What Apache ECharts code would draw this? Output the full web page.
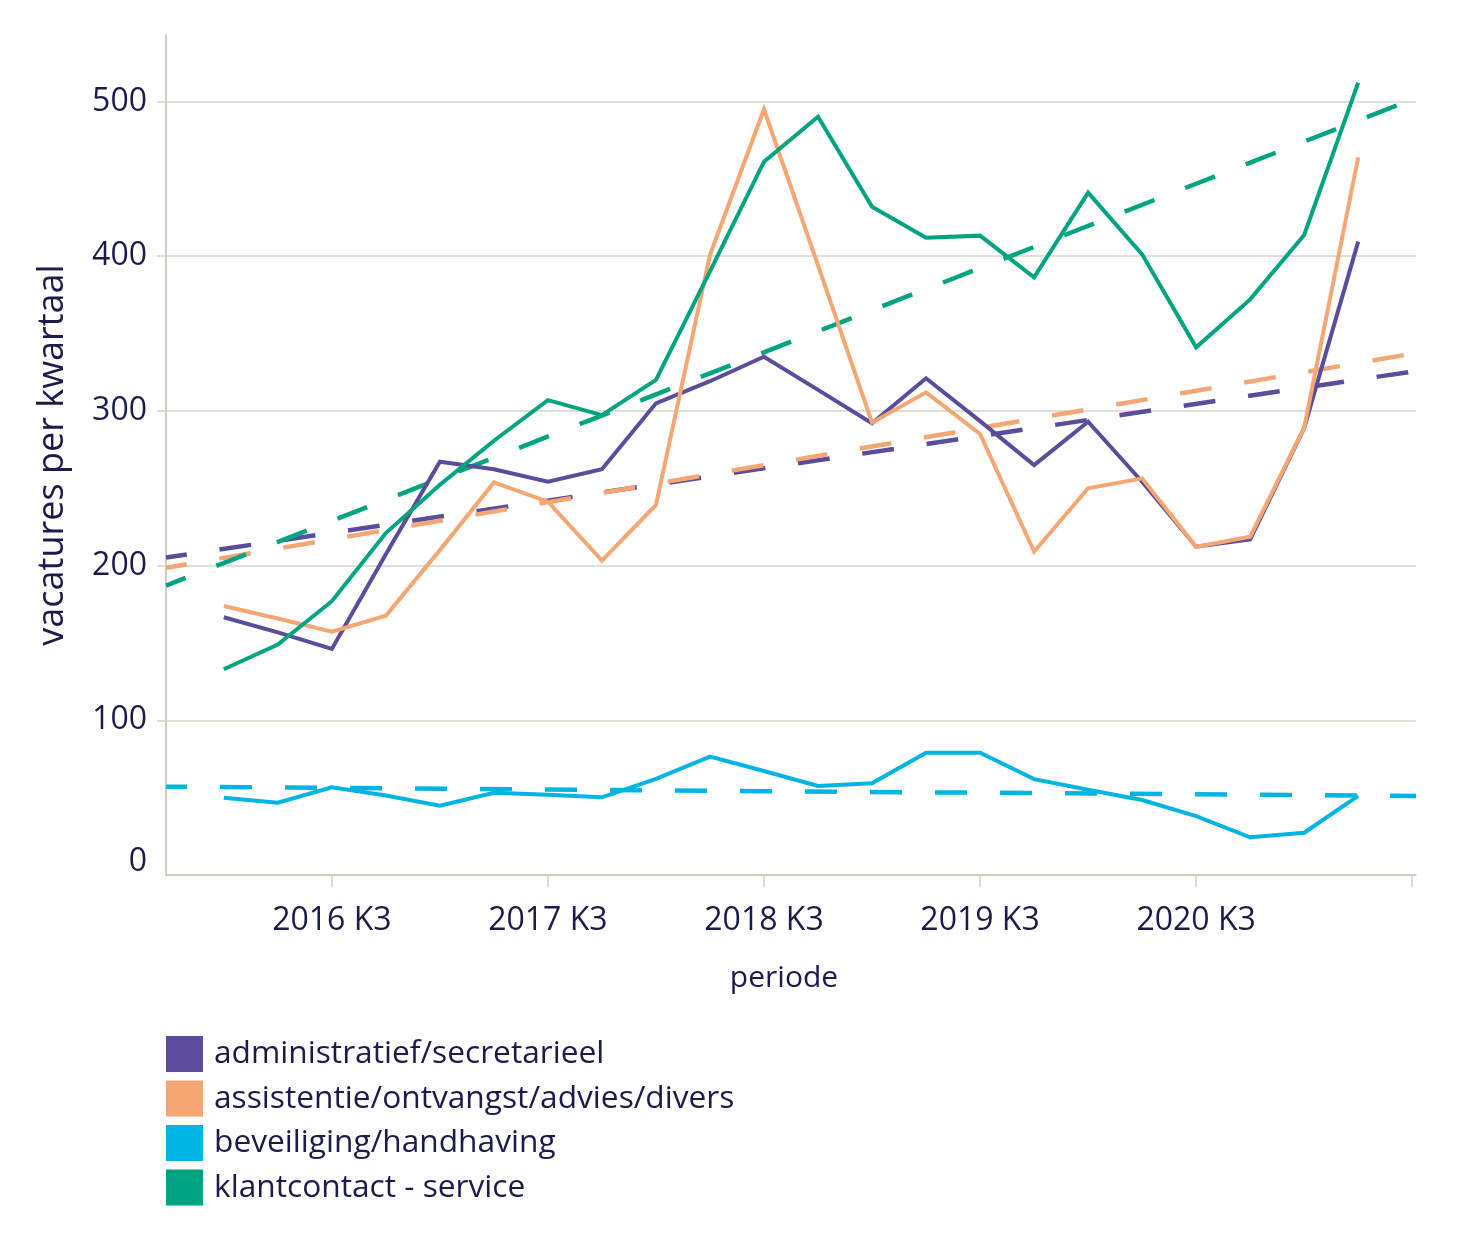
<!DOCTYPE html>
<html><head><meta charset="utf-8">
<script src="https://cdn.jsdelivr.net/npm/echarts@6/dist/echarts.min.js"></script>
<style>html,body{margin:0;padding:0;background:#fff}#c{width:1477px;height:1249px}</style>
</head><body><div id="c"></div>
<script>
// ---- data ----
const quarters = ['2016 K1','2016 K2','2016 K3','2016 K4','2017 K1','2017 K2','2017 K3','2017 K4',
  '2018 K1','2018 K2','2018 K3','2018 K4','2019 K1','2019 K2','2019 K3','2019 K4',
  '2020 K1','2020 K2','2020 K3','2020 K4','2021 K1','2021 K2'];
const tickLabels = ['2016 K3','2017 K3','2018 K3','2019 K3','2020 K3'];
const seriesNames = ['administratief/secretarieel','assistentie/ontvangst/advies/divers','beveiliging/handhaving','klantcontact - service'];
const administratief = [166.6,156.8,146.1,207.3,267.2,262.3,254.2,262.3,304.9,319.2,335.0,313.6,292.0,321.1,293.4,265.0,293.0,254.2,212.2,217.0,289.0,409.4];
const assistentie   = [173.9,165.8,157.3,167.6,210.0,253.8,241.3,203.2,239.2,400.8,495.0,394.1,292.4,312.0,285.1,209.0,250.0,256.4,212.2,218.7,289.0,463.9];
const beveiliging   = [50.0,46.7,56.7,51.4,44.8,53.2,51.9,50.2,62.1,76.5,67.2,57.5,59.3,79.1,79.1,62.0,55.1,48.5,38.1,24.4,27.3,51.1];
const klantcontact  = [133.0,149.0,177.0,221.0,252.2,280.7,307.0,297.3,320.0,390.2,461.1,490.2,432.0,412.0,413.3,386.4,441.1,401.2,341.1,372.1,413.7,512.2];
// linear trend lines: value at left edge and at right edge of the plot
const trendStart = [205.2,198.6,57.1,187.1];
const trendEnd   = [325.8,337.4,51.1,502.3];
const yTicks = [0,100,200,300,400,500];

// ---- styling ----
const colors = ['#5b4d9b','#f5a673','#00b5e3','#00a480'];
const textColor = '#1b1b4b';
const FONT = '"Open Sans", sans-serif';
const FW = 500;
const xMin = -1.07, xMax = 22.07;

const values = [administratief, assistentie, beveiliging, klantcontact];
const labelIdx = tickLabels.map(t => quarters.indexOf(t));
const tickIdx = labelIdx.concat([labelIdx[labelIdx.length-1] + 4]);

const series = [];
values.forEach((arr, k) => {
  series.push({
    name: seriesNames[k] + ' trend', type: 'line', silent: true, symbol: 'none',
    data: [[xMin, trendStart[k]], [xMax, trendEnd[k]]],
    lineStyle: {color: colors[k], width: 4.5, type: [32, 33], dashOffset: 11, cap: 'butt'},
    z: 2
  });
});
values.forEach((arr, k) => {
  series.push({
    name: seriesNames[k], type: 'line', symbol: 'none',
    data: arr.map((v, i) => [i, v]),
    lineStyle: {color: colors[k], width: 4, join: 'miter'},
    itemStyle: {color: colors[k]},
    z: 3
  });
});

const chart = echarts.init(document.getElementById('c'), null, {renderer: 'canvas'});
chart.setOption({
  animation: false,
  backgroundColor: '#ffffff',
  textStyle: {fontFamily: FONT, color: textColor, fontWeight: FW},
  grid: {left: 166, right: 61, top: 35, bottom: 374, containLabel: false},
  legend: {
    data: seriesNames, orient: 'vertical', left: 166, top: 1036, padding: 0,
    icon: 'rect', itemWidth: 37, itemHeight: 36, itemGap: 8.5,
    textStyle: {fontFamily: FONT, fontWeight: FW, fontSize: 31.7, color: textColor, padding: [0,0,0,6]}
  },
  xAxis: {
    type: 'value', min: xMin, max: xMax,
    name: 'periode', nameLocation: 'middle', nameGap: 88,
    nameTextStyle: {fontFamily: FONT, fontWeight: FW, fontSize: 30, color: textColor, padding: [0,14,0,0]},
    axisLine: {show: true, onZero: false, lineStyle: {color: '#c5bdac', width: 1.5}},
    axisTick: {show: true, length: 12, customValues: tickIdx, lineStyle: {color: '#d6d1c4', width: 1.5}},
    axisLabel: {customValues: labelIdx, margin: 30, fontFamily: FONT, fontWeight: FW, fontSize: 32, color: textColor,
      formatter: v => quarters[Math.round(v)] || ''},
    splitLine: {show: false}
  },
  yAxis: {
    type: 'value', min: 0, max: 543, interval: 100,
    name: 'vacatures per kwartaal', nameLocation: 'middle', nameGap: 95,
    nameTextStyle: {fontFamily: FONT, fontWeight: FW, fontSize: 36, color: textColor},
    axisLine: {show: true, onZero: false, lineStyle: {color: '#c5bdac', width: 1.5}},
    axisTick: {show: true, length: 9, customValues: yTicks.slice(1), lineStyle: {color: '#d6d1c4', width: 1.5}},
    axisLabel: {customValues: yTicks, margin: 19, fontFamily: FONT, fontWeight: FW, fontSize: 32, color: textColor,
      formatter: v => v === 0 ? '{z|0}' : String(v),
      rich: {z: {fontFamily: FONT, fontWeight: FW, fontSize: 32, color: textColor, padding: [0,0,26,0]}}},
    splitLine: {show: true, lineStyle: {color: '#d9d5c8', width: 1.5}}
  },
  series: series
});
</script></body></html>
